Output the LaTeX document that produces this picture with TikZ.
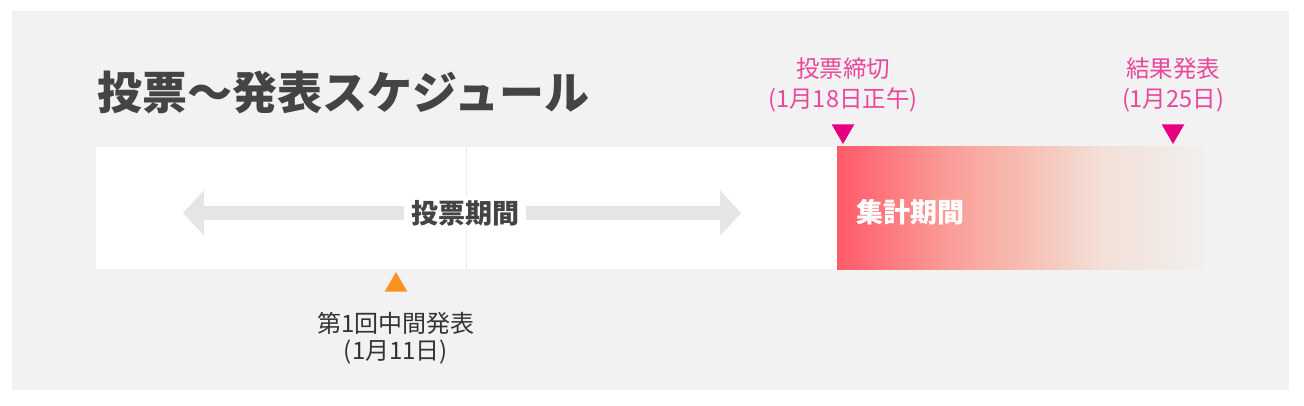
\documentclass[tikz,border=0pt]{standalone}
\usepackage{fontspec}
\setmainfont{Noto Sans CJK JP}
\usetikzlibrary{shapes.geometric,arrows.meta,positioning}

\definecolor{panelgray}{HTML}{F2F2F2}
\definecolor{arrowgray}{HTML}{E5E5E5}
\definecolor{inkgray}{HTML}{444444}
\definecolor{deadpink}{HTML}{E5007F}
\definecolor{notepink}{HTML}{E8479B}
\definecolor{midorange}{HTML}{F7931E}
\definecolor{tallyred}{HTML}{FF5A69}
\definecolor{tallymid}{HTML}{FA9C97}
\definecolor{tallysoft}{HTML}{F6C3B7}
\definecolor{tallylight}{HTML}{F3E0D8}
\definecolor{tallyend}{HTML}{F1F0EF}

\pgfdeclarehorizontalshading{tallyfade}{100bp}{color(0bp)=(tallyred); color(25bp)=(tallyred);
  color(40bp)=(tallymid); color(52bp)=(tallysoft); color(61bp)=(tallylight);
  color(75bp)=(tallyend); color(100bp)=(tallyend)}

\begin{document}
\begin{tikzpicture}
        [x=1pt,y=-1pt,
        note/.style = {font=\fontsize{23.5}{30}\selectfont, align=center, inner sep=0pt},
        pinknote/.style = {note, text=notepink},
        marker/.style = {regular polygon, regular polygon sides=3,
        minimum size=26pt, inner sep=0pt},
        periodtext/.style = {font=\fontsize{27}{30}\selectfont\bfseries, inner sep=0pt}]

        % Canvas
        \useasboundingbox (0,0) rectangle (1304,406);
        \fill[white] (0,0) rectangle (1304,406);
        \fill[panelgray] (12,11) rectangle (1289,390);

        % Title
        \node[anchor=west, inner sep=0pt, text=inkgray,
        font=\fontsize{45}{50}\selectfont\bfseries] (title) at (97,92) {投票〜発表スケジュール};

        % Voting period bar
        \fill[white] (96,147) rectangle (837,269);
        \draw[white!93!black, line width=0.6pt] (466,147) -- (466,269);
        \coordinate (arrL) at (183,213);
        \coordinate (arrR) at (741,213);
        \draw[arrowgray, line width=14pt,
        {Triangle[length=21pt,width=44pt]}-{Triangle[length=21pt,width=44pt]}] (arrL) -- (arrR);
        \node[periodtext, fill=white, inner xsep=7pt, inner ysep=4pt, text=inkgray]
        (vote) at (465,213) {投票期間};

        % Tally period bar
        \shade[shading=tallyfade] (837,147) rectangle (1205,269);
        \node[periodtext, anchor=west, text=white] (tally) at (856,212) {集計期間};

        % Deadline and result
        \node[marker, fill=deadpink, shape border rotate=180] (deadline) at (843,131) {};
        \node[marker, fill=deadpink, shape border rotate=180] (result) at (1173,131) {};
        \node[pinknote] (deadlinetxt) at (843,85) {投票締切\\(1月18日正午)};
        \node[pinknote] (resulttxt) at (1173,85) {結果発表\\(1月25日)};

        % Interim
        \node[marker, fill=midorange] (interim) at (396,285) {};
        \node[note, text=black!80, font=\fontsize{24}{27}\selectfont] (interimtxt) at (396,338) {第1回中間発表\\(1月11日)};
    \end{tikzpicture}
\end{document}
